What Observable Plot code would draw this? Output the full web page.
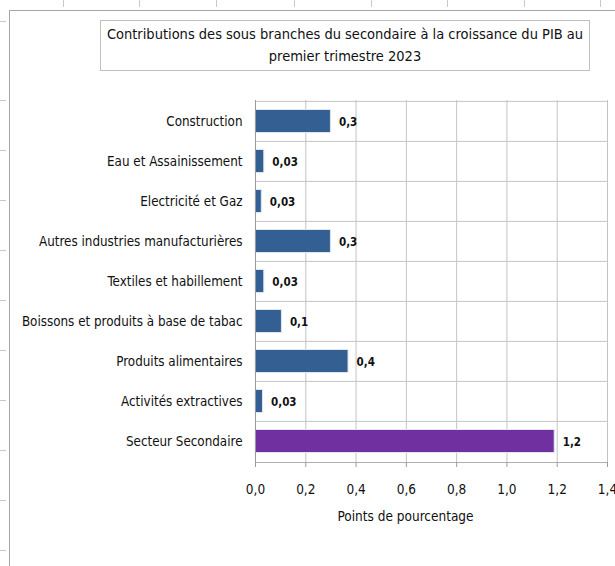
<!DOCTYPE html>
<html>
<head>
<meta charset="utf-8">
<script src="https://cdn.jsdelivr.net/npm/d3@7"></script>
<script src="https://cdn.jsdelivr.net/npm/@observablehq/plot@0.6"></script>
<style>
  html, body { margin: 0; padding: 0; background: #fff; }
  #page { position: relative; width: 615px; height: 566px; overflow: hidden; background: #fff;
          font-family: "DejaVu Sans Condensed", "Liberation Sans Narrow", "Roboto", sans-serif; }
  #frame { position: absolute; left: 9px; top: 10px; width: 620px; height: 570px;
           border-left: 1px solid #a6a6a6; border-top: 1px solid #a6a6a6; }
  #title { position: absolute; left: 100px; top: 20px; width: 490px; height: 51px;
           border: 1px solid #c0c0c0; box-sizing: border-box; text-align: center; white-space: nowrap;
           font-size: 14.5px; line-height: 22px; color: #111; padding-top: 2px; }
  #chart { position: absolute; left: 0; top: 80px; }
  .tk { position: absolute; background: #c8c8c8; }
</style>
</head>
<body>
<div id="page">
  <div id="frame"></div>
  <div id="title">Contributions des sous branches du secondaire à la croissance du PIB au<br>premier trimestre 2023</div>
  <div id="chart"></div>
</div>
<script>
const categories = [
  "Construction",
  "Eau et Assainissement",
  "Electricité et Gaz",
  "Autres industries manufacturières",
  "Textiles et habillement",
  "Boissons et produits à base de tabac",
  "Produits alimentaires",
  "Activités extractives",
  "Secteur Secondaire"
];
const values = [0.3, 0.035, 0.025, 0.3, 0.035, 0.105, 0.37, 0.03, 1.19];
const valueLabels = ["0,3", "0,03", "0,03", "0,3", "0,03", "0,1", "0,4", "0,03", "1,2"];
const groups = ["branche", "branche", "branche", "branche", "branche", "branche", "branche", "branche", "total"];
const xTicks = [0, 0.2, 0.4, 0.6, 0.8, 1.0, 1.2, 1.4];
const xTitle = "Points de pourcentage";

const data = categories.map((c, i) => ({category: c, value: values[i], label: valueLabels[i], group: groups[i]}));

const fontFam = '"DejaVu Sans Condensed", "Liberation Sans Narrow", "Roboto", sans-serif';
const H = 486, mt = 20, mb = 104;
const band = (H - mt - mb) / categories.length;

const chart = Plot.plot({
  width: 615,
  height: H,
  marginTop: mt,
  marginBottom: mb,
  marginLeft: 255,
  marginRight: 8,
  style: {fontFamily: fontFam, fontSize: "13px", color: "#111", background: "transparent", overflow: "visible"},
  x: {domain: [0, 1.4], ticks: xTicks},
  y: {domain: categories, padding: 0},
  color: {domain: ["branche", "total"], range: ["#335f92", "#7030a0"]},
  marks: [
    Plot.gridX(xTicks, {stroke: "#c4c4c4", strokeOpacity: 1}),
    Plot.ruleY(categories, {stroke: "#c4c4c4", dy: -band / 2}),
    Plot.barX(data, {y: "category", x: "value", fill: "group", insetTop: 8.5, insetBottom: 8.5, stroke: "#dfe6f0", strokeWidth: 1}),
    Plot.text(data, {y: "category", x: "value", text: "label", dx: 8, dy: 1, textAnchor: "start",
      fontWeight: "bold", fontSize: 11.5, fill: "#111"}),
    Plot.ruleX([0], {stroke: "#9a9a9a"}),
    Plot.frame({stroke: "#b0b0b0", anchor: "bottom"}),
    Plot.axisX(xTicks, {tickSize: 5, tickPadding: 17, stroke: "#9a9a9a",
      tickFormat: d => d3.format(".1f")(d).replace(".", ","), fontSize: 13.5, label: null}),
    Plot.axisY({tickSize: 0, tickPadding: 13, fontSize: 13.3, label: null}),
    Plot.text([xTitle], {frameAnchor: "bottom", dx: -26, dy: 58, fontSize: 13.5, fill: "#111"})
  ]
});
document.getElementById("chart").appendChild(chart);

// spreadsheet-like edge ticks
const page = document.getElementById("page");
[63, 139, 216, 294, 371, 447, 524, 600].forEach(x => {
  const d = document.createElement("div"); d.className = "tk";
  d.style.left = x + "px"; d.style.top = "0px"; d.style.width = "1px"; d.style.height = "7px";
  page.appendChild(d);
});
[21, 100, 150, 200, 250, 300, 350, 400, 450, 500, 550].forEach(y => {
  const d = document.createElement("div"); d.className = "tk";
  d.style.left = "0px"; d.style.top = y + "px"; d.style.width = "6px"; d.style.height = "1px";
  page.appendChild(d);
});
</script>
</body>
</html>
